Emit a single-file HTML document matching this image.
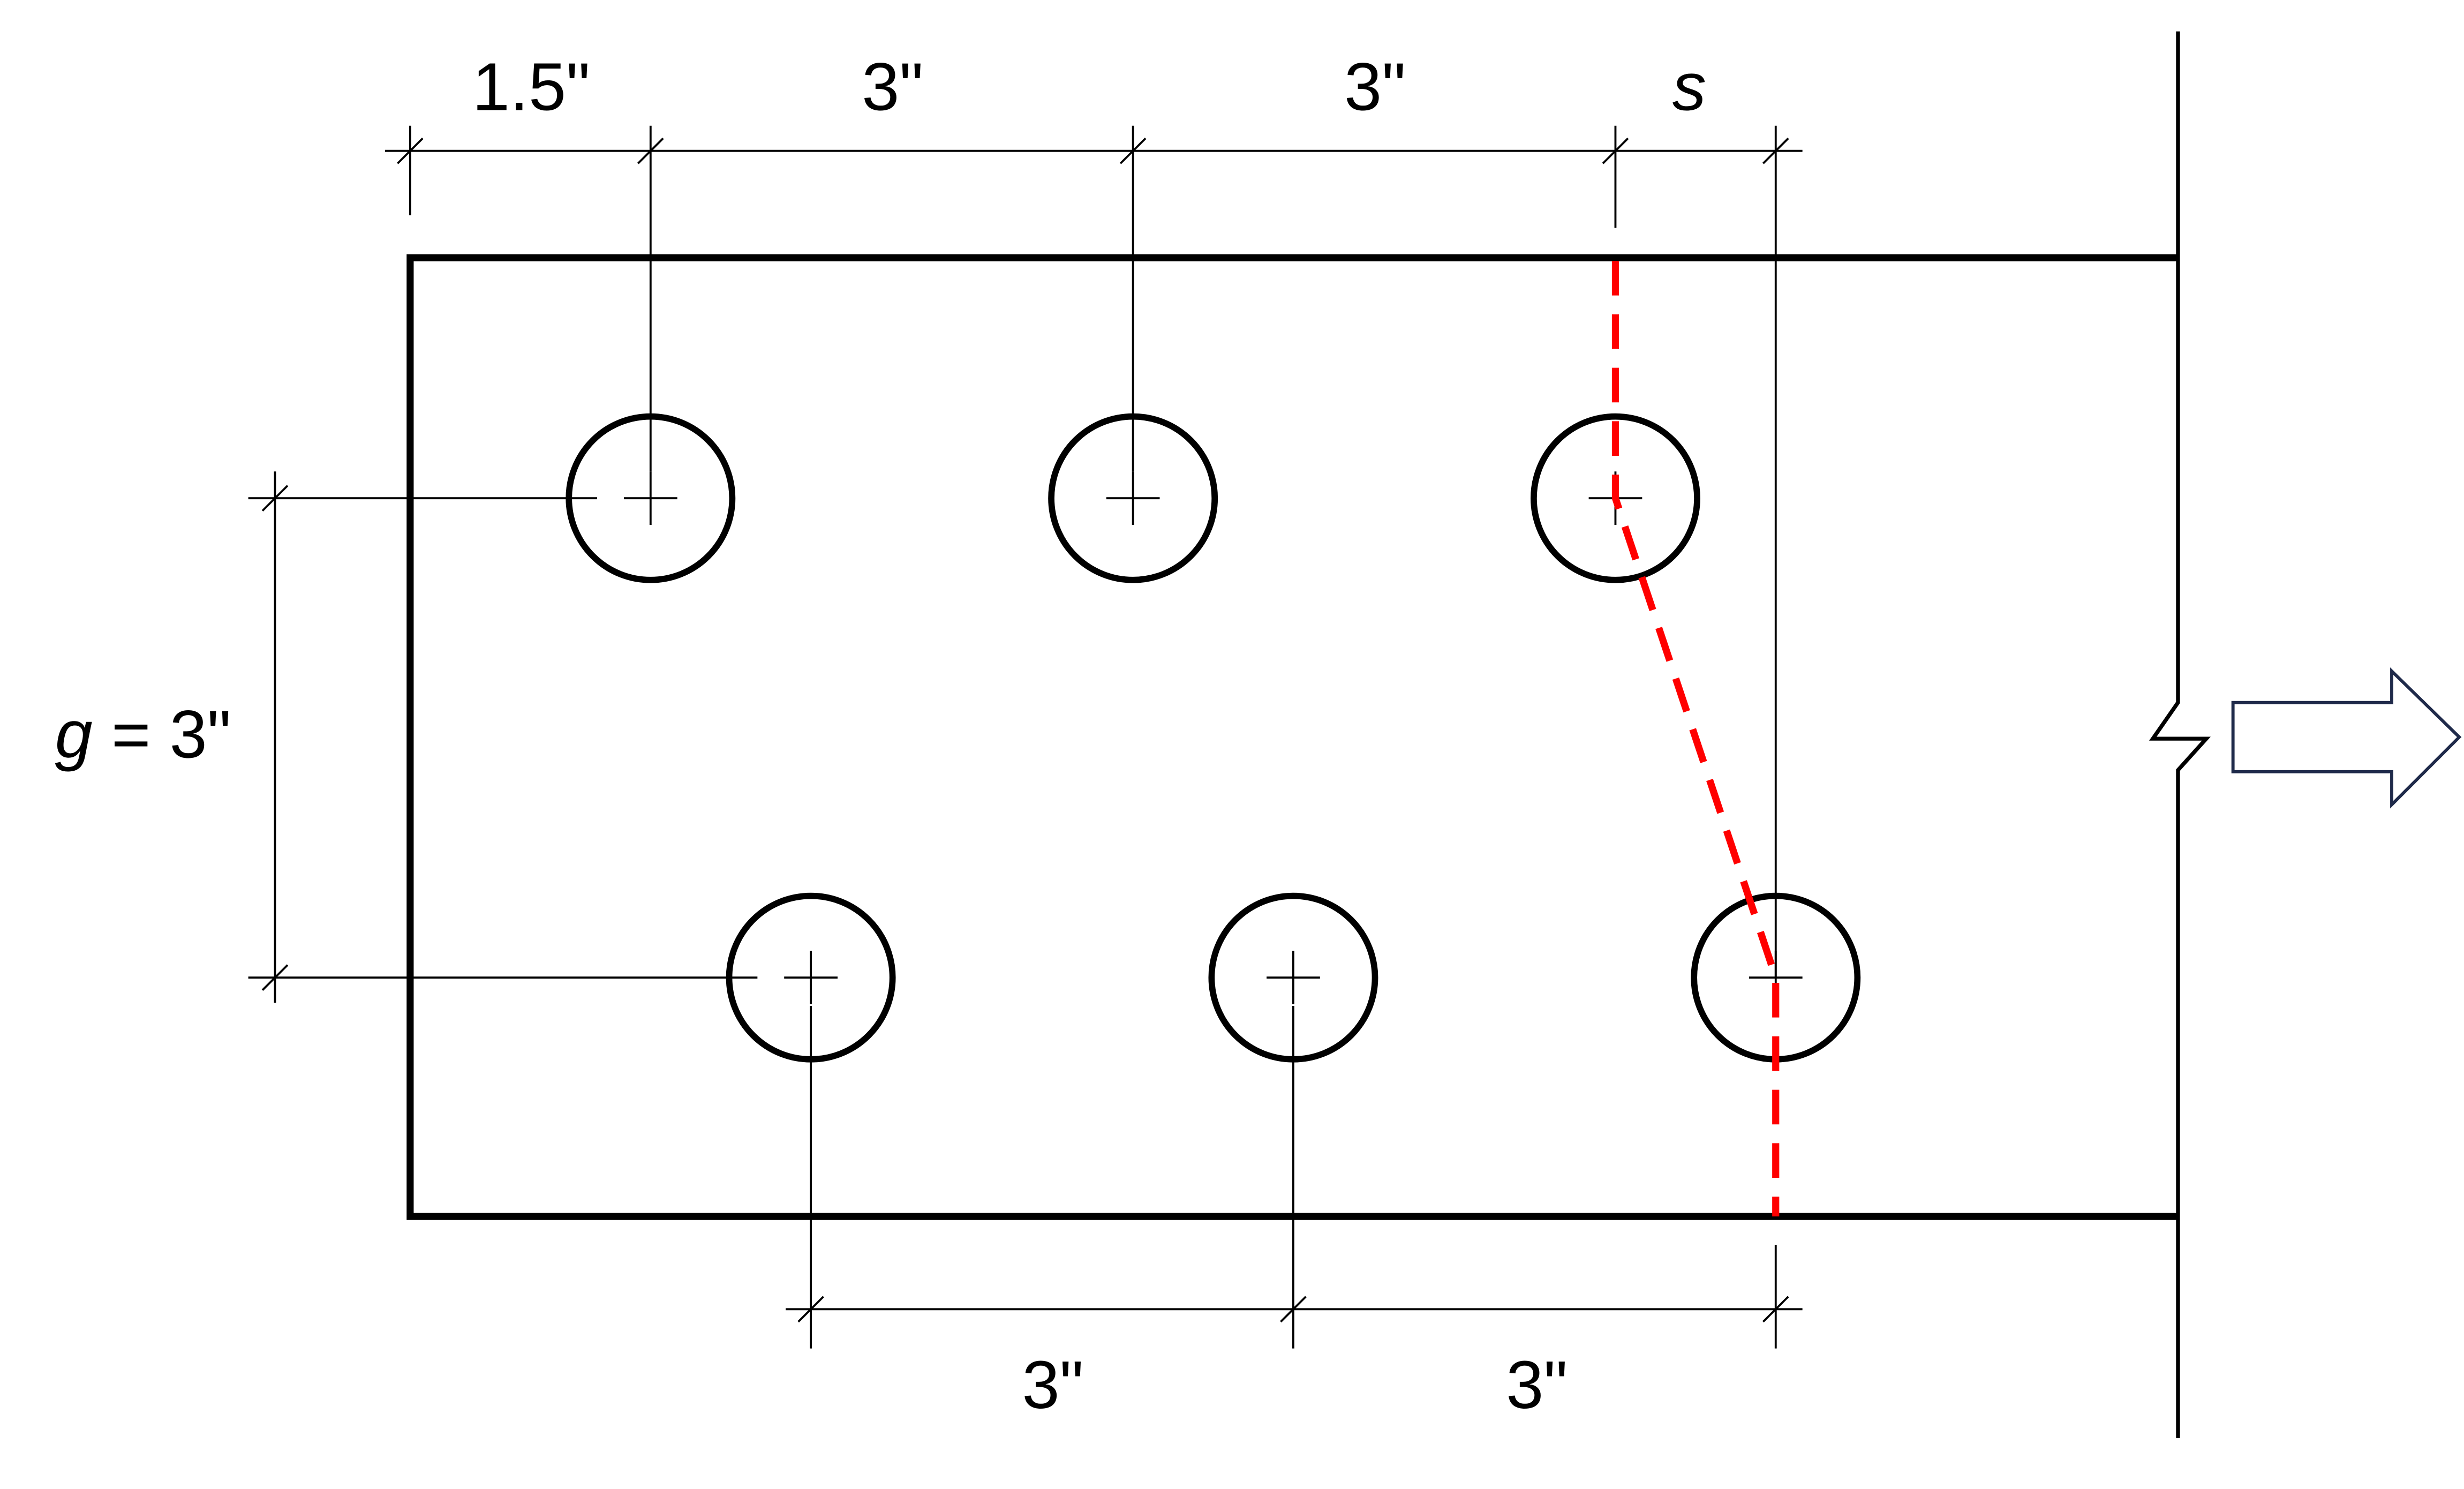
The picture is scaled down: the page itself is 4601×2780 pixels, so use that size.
<!DOCTYPE html>
<html><head><meta charset="utf-8"><style>
html,body{margin:0;padding:0;background:#fff;}
svg{display:block;}
text{font-family:"Liberation Sans",sans-serif;font-size:43px;fill:#000;}
</style></head><body>
<svg width="4601" height="2780" viewBox="0 0 1568 947.4" preserveAspectRatio="none" xmlns="http://www.w3.org/2000/svg">
<rect width="1568" height="947.4" fill="#fff"/>
<path d="M1386,164 L261,164 L261,774 L1386,774" fill="none" stroke="#000" stroke-width="4.5"/>
<path d="M1386,20 L1386,447 L1370,470 L1404,470 L1386,490 L1386,915" fill="none" stroke="#000" stroke-width="2.5"/>
<path d="M1421,447 L1522,447 L1522,427 L1565,469 L1522,512 L1522,491 L1421,491 Z" fill="#fff" stroke="#1f2a4a" stroke-width="2"/>
<g stroke="#000" stroke-width="1.3" fill="none">
<line x1="245" y1="96" x2="1147" y2="96"/>
<line x1="261" y1="80" x2="261" y2="137"/>
<line x1="414" y1="80" x2="414" y2="300"/>
<line x1="721" y1="80" x2="721" y2="300"/>
<line x1="1028" y1="80" x2="1028" y2="145"/>
<line x1="1130" y1="80" x2="1130" y2="622"/>
<line x1="175" y1="300" x2="175" y2="638"/>
<line x1="158" y1="317" x2="380" y2="317"/>
<line x1="158" y1="622" x2="482" y2="622"/>
<line x1="500" y1="833" x2="1147" y2="833"/>
<line x1="516" y1="640" x2="516" y2="858"/>
<line x1="823" y1="640" x2="823" y2="858"/>
<line x1="1130" y1="792" x2="1130" y2="858"/>
<line x1="253" y1="104" x2="269" y2="88"/>
<line x1="406" y1="104" x2="422" y2="88"/>
<line x1="713" y1="104" x2="729" y2="88"/>
<line x1="1020" y1="104" x2="1036" y2="88"/>
<line x1="1122" y1="104" x2="1138" y2="88"/>
<line x1="167" y1="325" x2="183" y2="309"/>
<line x1="167" y1="630" x2="183" y2="614"/>
<line x1="508" y1="841" x2="524" y2="825"/>
<line x1="815" y1="841" x2="831" y2="825"/>
<line x1="1122" y1="841" x2="1138" y2="825"/>
<path d="M397,317h34M414,300v34 M704,317h34M721,300v34 M1011,317h34M1028,300v34 M499,622h34M516,605v34 M806,622h34M823,605v34 M1113,622h34M1130,605v34"/>
</g>
<g stroke="#000" stroke-width="4" fill="none">
<circle cx="414" cy="317" r="52"/>
<circle cx="721" cy="317" r="52"/>
<circle cx="1028" cy="317" r="52"/>
<circle cx="516" cy="622" r="52"/>
<circle cx="823" cy="622" r="52"/>
<circle cx="1130" cy="622" r="52"/>
</g>
<path d="M1028,166 L1028,317 L1130,622 L1130,774" fill="none" stroke="#ff0000" stroke-width="4.5" stroke-dasharray="22,12"/>
<text x="338" y="70" text-anchor="middle">1.5"</text>
<text x="568" y="70" text-anchor="middle">3"</text>
<text x="875" y="70" text-anchor="middle">3"</text>
<text x="1075" y="70" text-anchor="middle" font-style="italic">s</text>
<text x="35" y="482"><tspan font-style="italic">g</tspan> = 3"</text>
<text x="670" y="896" text-anchor="middle">3"</text>
<text x="978" y="896" text-anchor="middle">3"</text>
</svg>
</body></html>
